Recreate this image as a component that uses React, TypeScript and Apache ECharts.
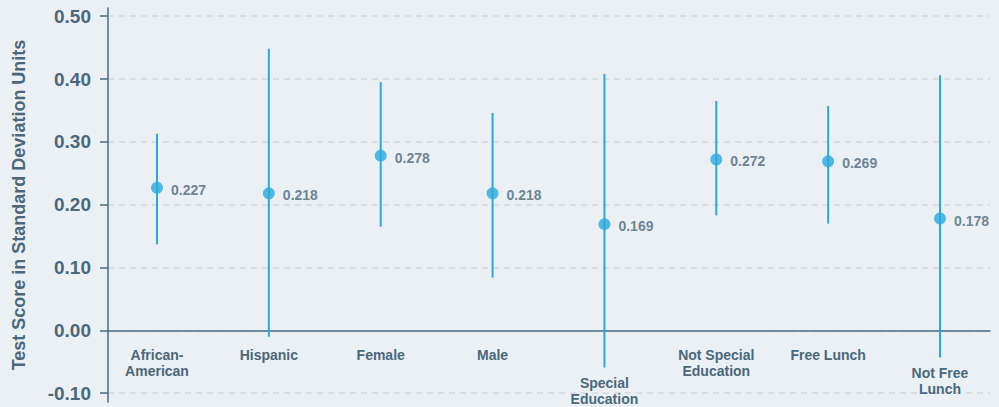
import React, { useEffect, useRef } from "react";
import * as echarts from "echarts";

const categories = [
  "African-\nAmerican",
  "Hispanic",
  "Female",
  "Male",
  "Special\nEducation",
  "Not Special\nEducation",
  "Free Lunch",
  "Not Free\nLunch",
];
const estimates = [0.227, 0.218, 0.278, 0.218, 0.169, 0.272, 0.269, 0.178];
const upperBounds = [0.313, 0.448, 0.395, 0.346, 0.408, 0.365, 0.357, 0.406];
const lowerBounds = [0.137, -0.01, 0.165, 0.084, -0.059, 0.183, 0.17, -0.043];
const yTicks = [-0.1, 0, 0.1, 0.2, 0.3, 0.4, 0.5];
const yAxisTitle = "Test Score in Standard Deviation Units";

const FONT = "'Liberation Sans', Arial, Helvetica, sans-serif";
const TEXT = "#4b677b";
const AXIS = "#4a6b80";
const BLUE = "#29a9e1";

export default function App() {
  const ref = useRef<HTMLDivElement>(null);
  useEffect(() => {
    if (!ref.current) return;
    const chart = echarts.init(ref.current, null, { renderer: "svg" });
    const barData = categories.map((_, i) => [i, lowerBounds[i], upperBounds[i]]);
    const pointData = estimates.map((v, i) => [i, v]);
    chart.setOption({
      animation: false,
      backgroundColor: "#eaf0f4",
      grid: { left: 108, right: 9, top: 8, bottom: 5, containLabel: false },
      xAxis: {
        type: "value",
        min: -0.438,
        max: 7.447,
        axisLine: { show: true, onZero: true, lineStyle: { color: AXIS, width: 1.5 } },
        axisTick: { show: false },
        axisLabel: { show: false },
        splitLine: { show: false },
      },
      yAxis: {
        type: "value",
        min: -0.114,
        max: 0.513,
        name: yAxisTitle,
        nameLocation: "middle",
        nameGap: 80,
        nameTextStyle: { color: TEXT, fontFamily: FONT, fontWeight: "bold", fontSize: 18 },
        axisLine: { show: true, onZero: false, lineStyle: { color: AXIS, width: 1.5 } },
        axisTick: {
          show: true,
          inside: false,
          length: 8,
          customValues: yTicks,
          lineStyle: { color: AXIS, width: 1.5 },
        },
        axisLabel: {
          customValues: yTicks,
          formatter: (v: number) => v.toFixed(2),
          color: TEXT,
          fontFamily: FONT,
          fontWeight: "bold",
          fontSize: 19,
          margin: 17,
        },
        splitLine: {
          show: true,
          lineStyle: { color: "#d3d8db", type: [6, 5], width: 1.5 },
        },
      },
      series: [
        {
          type: "custom",
          data: barData,
          z: 2,
          renderItem: (params: any, api: any) => {
            const i = api.value(0);
            const top = api.coord([i, api.value(2)]);
            const bot = api.coord([i, api.value(1)]);
            const zero = api.coord([i, 0]);
            const labelY = Math.max(zero[1] + 17, bot[1] + 8);
            return {
              type: "group",
              children: [
                {
                  type: "line",
                  shape: { x1: top[0], y1: top[1], x2: bot[0], y2: bot[1] },
                  style: { stroke: BLUE, lineWidth: 2 },
                },
                {
                  type: "text",
                  x: top[0],
                  y: labelY,
                  style: {
                    text: categories[i],
                    align: "center",
                    verticalAlign: "top",
                    fontFamily: FONT,
                    fontWeight: "bold",
                    fontSize: 14,
                    lineHeight: 16,
                    fill: TEXT,
                  },
                },
              ],
            };
          },
        },
        {
          type: "scatter",
          data: pointData,
          z: 3,
          symbol: "circle",
          symbolSize: 12,
          itemStyle: { color: BLUE },
          label: {
            show: true,
            position: "right",
            distance: 8,
            offset: [0, 2],
            formatter: (p: any) => estimates[p.dataIndex].toFixed(3),
            color: TEXT,
            fontFamily: FONT,
            fontWeight: "bold",
            fontSize: 14,
          },
        },
      ],
    });
    return () => chart.dispose();
  }, []);
  return (
    <div
      ref={ref}
      style={{ position: "fixed", left: 0, top: 0, width: 999, height: 407 }}
    />
  );
}
